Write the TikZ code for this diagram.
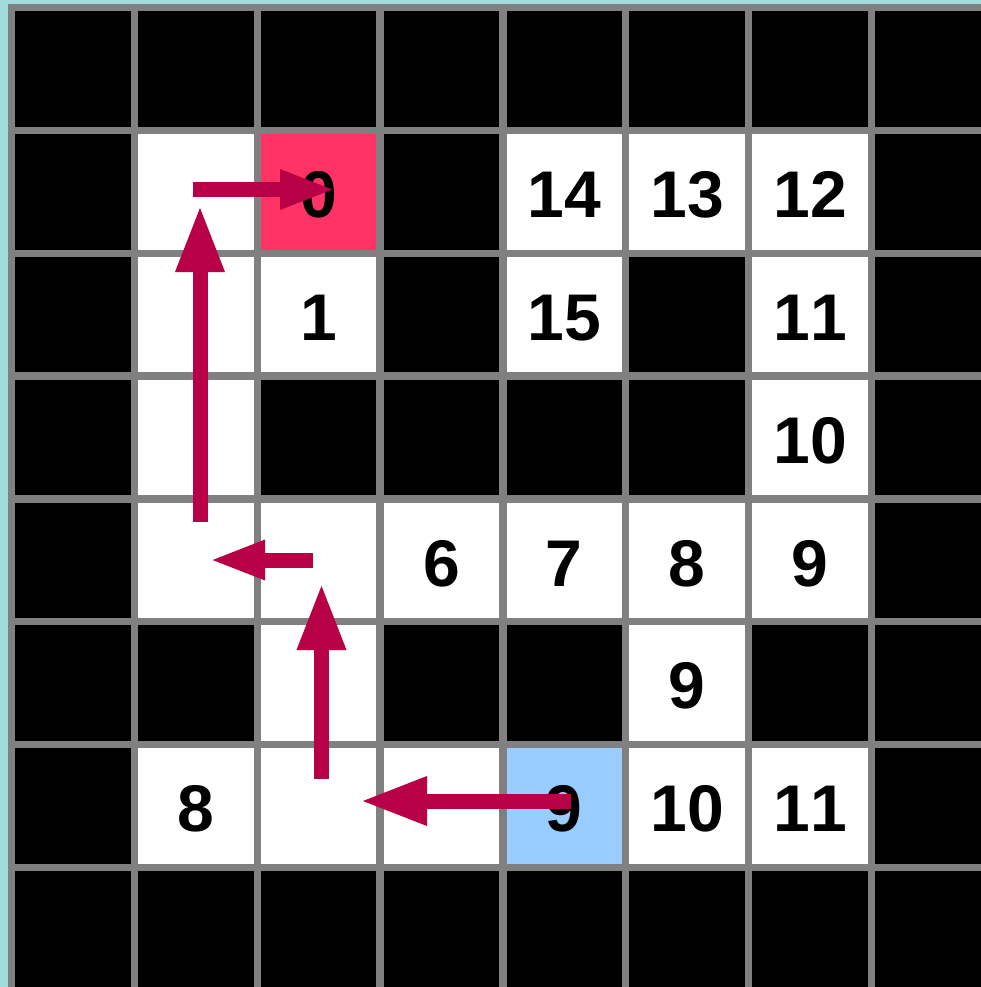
\documentclass[tikz,border=0pt]{standalone}
\usepackage{fontspec}
\setmainfont{Liberation Sans}[Kerning=Off]
\usetikzlibrary{arrows.meta}
\definecolor{teal0}{RGB}{160,220,220}
\definecolor{grid0}{RGB}{128,128,128}
\definecolor{start0}{RGB}{255,51,102}
\definecolor{goal0}{RGB}{153,204,255}
\definecolor{path0}{RGB}{184,0,70}
\tikzset{
  cell/.style={fill=white,minimum width=115.55pt,minimum height=115.55pt,inner sep=0pt,
    text height=51.5pt,text depth=0pt,
    font=\fontsize{66}{66}\selectfont\bfseries},
  bigarrow/.style={draw=path0,line width=15pt,line cap=butt,
    -{Triangle[width=45pt,length=67pt,fill=path0]}},
  smallarrow/.style={draw=path0,line width=15pt,line cap=butt,
    -{Triangle[width=36pt,length=56pt,fill=path0]}}
}
\begin{document}
\begin{tikzpicture}[x=1pt,y=-1pt]
\useasboundingbox (0,0) rectangle (981,987);
\fill[teal0] (0,0) rectangle (981,987);
\fill[black] (11.5,7.5) rectangle (981,987);
\foreach \k in {0,...,7}{
  \draw[grid0,line width=7.3pt] ({11.5+122.85*\k},3.85) -- ({11.5+122.85*\k},987);
  \draw[grid0,line width=7.3pt] (7.85,{7.5+122.85*\k}) -- (981,{7.5+122.85*\k});
}
\foreach \c/\r/\col/\t in {
  1/1/white/{}, 2/1/start0/0, 4/1/white/14, 5/1/white/13, 6/1/white/12,
  1/2/white/{}, 2/2/white/1, 4/2/white/15, 6/2/white/11,
  1/3/white/{}, 6/3/white/10,
  1/4/white/{}, 2/4/white/{}, 3/4/white/6, 4/4/white/7, 5/4/white/8, 6/4/white/9,
  2/5/white/{}, 5/5/white/9,
  1/6/white/8, 2/6/white/{}, 3/6/white/{}, 4/6/goal0/9, 5/6/white/10, 6/6/white/11}
{
  \node[cell,fill=\col] (c\c\r) at ({72.925+122.85*\c},{68.925+122.85*\r}) {\t};
}
\coordinate (a1s) at (571,801);   \coordinate (a1e) at (360,801);
\coordinate (a2s) at (321.5,779); \coordinate (a2e) at (321.5,583);
\coordinate (a3s) at (313,560);   \coordinate (a3e) at (209,560);
\coordinate (a4s) at (200,522);   \coordinate (a4e) at (200,205);
\coordinate (a5s) at (193,189.5); \coordinate (a5e) at (336,189.5);
\draw[bigarrow] (a1s) -- (a1e);
\draw[bigarrow] (a2s) -- (a2e);
\draw[smallarrow] (a3s) -- (a3e);
\draw[bigarrow] (a4s) -- (a4e);
\draw[smallarrow] (a5s) -- (a5e);
\end{tikzpicture}
\end{document}
